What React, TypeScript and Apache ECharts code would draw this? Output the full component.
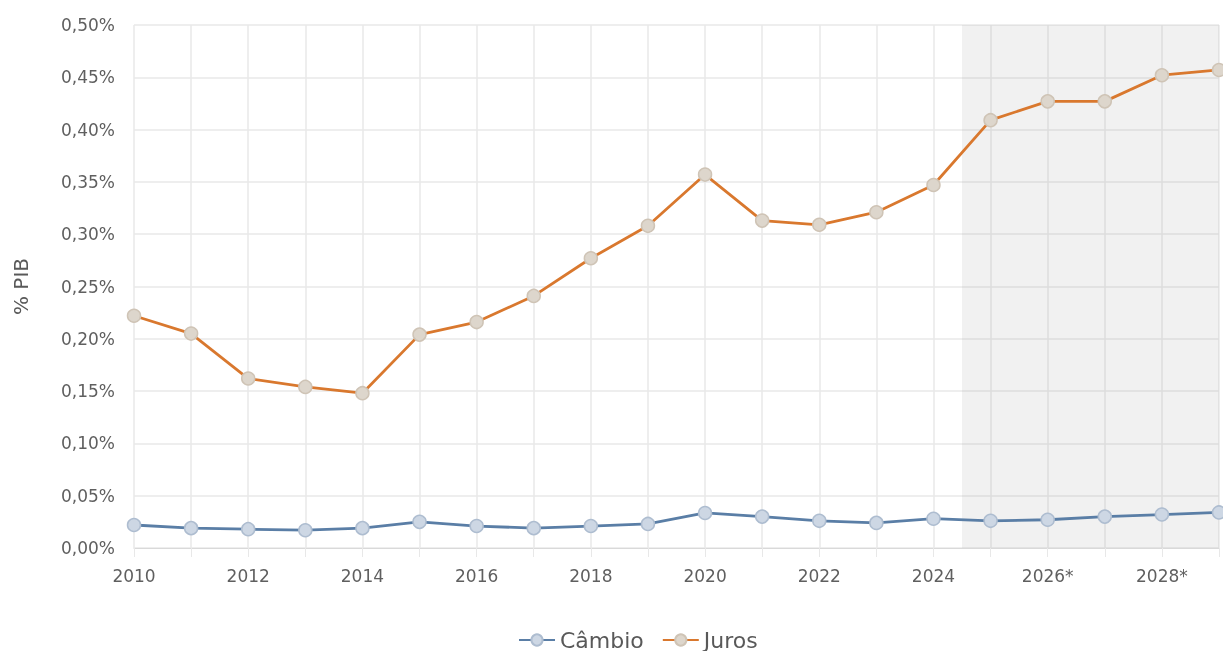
import React, { useEffect, useRef } from "react";
import * as echarts from "echarts";

const years = [2010, 2011, 2012, 2013, 2014, 2015, 2016, 2017, 2018, 2019, 2020, 2021, 2022, 2023, 2024, 2025, 2026, 2027, 2028, 2029];
const cambio = [0.022, 0.019, 0.018, 0.017, 0.019, 0.025, 0.021, 0.019, 0.021, 0.023, 0.0335, 0.030, 0.026, 0.024, 0.028, 0.026, 0.027, 0.030, 0.032, 0.034];
const juros = [0.222, 0.205, 0.162, 0.154, 0.148, 0.204, 0.216, 0.241, 0.277, 0.308, 0.357, 0.313, 0.309, 0.321, 0.347, 0.409, 0.427, 0.427, 0.452, 0.457];
const projectionStart = 2024.5;
const projectionEnd = 2029;

const font = "'DejaVu Sans', 'Open Sans', sans-serif";

export default function App() {
  const ref = useRef<HTMLDivElement>(null);
  useEffect(() => {
    if (!ref.current) return;
    const chart = echarts.init(ref.current, undefined, { renderer: "svg" });
    chart.setOption({
      animation: false,
      grid: { left: 134, right: 4, top: 25, bottom: 103 },
      legend: {
        top: 624,
        left: 513,
        itemWidth: 36,
        itemHeight: 14,
        itemGap: 18,
        textStyle: { fontFamily: font, fontSize: 22, color: "#595959" },
        data: ["Câmbio", "Juros"],
      },
      xAxis: {
        type: "value",
        min: 2010,
        max: 2029,
        interval: 1,
        axisLine: { show: true, lineStyle: { color: "#d9d9d9" } },
        axisTick: { show: true, length: 9, lineStyle: { color: "#e8e8e8" } },
        splitLine: { show: true, lineStyle: { color: "#e8e8e8", width: 1.5 } },
        axisLabel: {
          fontFamily: font,
          fontSize: 17,
          color: "#5f5f5f",
          margin: 19,
          showMaxLabel: true,
          formatter: (v: number) => (v % 2 === 0 ? (v >= 2026 ? v + "*" : String(v)) : ""),
        },
      },
      yAxis: {
        type: "value",
        min: 0,
        max: 0.5,
        interval: 0.05,
        name: "% PIB",
        nameLocation: "middle",
        nameRotate: 90,
        nameGap: 103,
        nameTextStyle: { fontFamily: font, fontSize: 20, color: "#595959" },
        axisLine: { show: false },
        axisTick: { show: false },
        splitLine: { show: true, lineStyle: { color: "#e8e8e8", width: 1.5 } },
        axisLabel: {
          fontFamily: font,
          fontSize: 17,
          color: "#5f5f5f",
          margin: 19,
          formatter: (v: number) => v.toFixed(2).replace(".", ",") + "%",
        },
      },
      series: [
        {
          name: "Câmbio",
          type: "line",
          data: years.map((y, i) => [y, cambio[i]]),
          lineStyle: { color: "#5a7ea6", width: 2.8 },
          itemStyle: { color: "#cdd7e4", borderColor: "#aebdd0", borderWidth: 1.5 },
          symbol: "circle",
          symbolSize: 13,
          z: 3,
        },
        {
          name: "Juros",
          type: "line",
          data: years.map((y, i) => [y, juros[i]]),
          lineStyle: { color: "#d9782e", width: 2.8 },
          itemStyle: { color: "#ddd6cc", borderColor: "#cfc4b6", borderWidth: 1.5 },
          symbol: "circle",
          symbolSize: 13,
          z: 3,
          markArea: {
            silent: true,
            itemStyle: { color: "rgba(120,120,120,0.1)" },
            data: [[{ xAxis: projectionStart }, { xAxis: projectionEnd }]],
          },
        },
      ],
    });
    return () => chart.dispose();
  }, []);
  return <div ref={ref} style={{ position: "fixed", left: 0, top: 0, width: 1223, height: 651 }} />;
}
